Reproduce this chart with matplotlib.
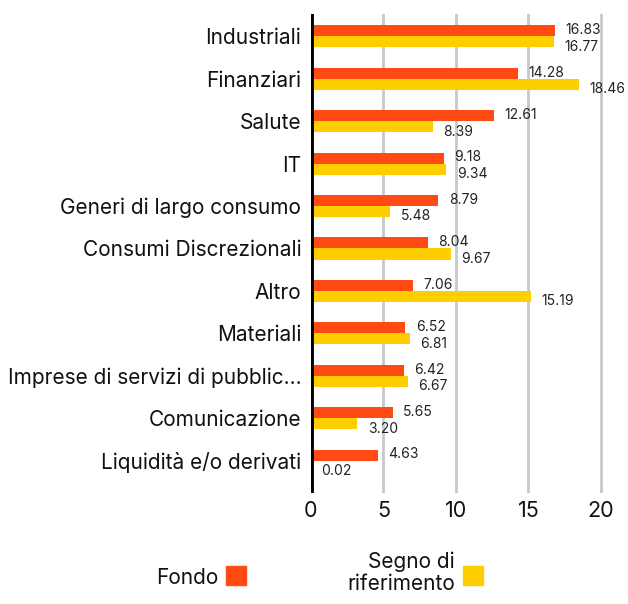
import matplotlib
matplotlib.use("Agg")
import matplotlib.pyplot as plt
from matplotlib.patches import Rectangle
import numpy as np

plt.rcParams['font.family'] = ['Inter', 'DejaVu Sans']

categories = ["Industriali", "Finanziari", "Salute", "IT", "Generi di largo consumo",
              "Consumi Discrezionali", "Altro", "Materiali",
              "Imprese di servizi di pubblic...", "Comunicazione",
              "Liquidità e/o derivati"]
fondo = [16.83, 14.28, 12.61, 9.18, 8.79, 8.04, 7.06, 6.52, 6.42, 5.65, 4.63]
riferimento = [16.77, 18.46, 8.39, 9.34, 5.48, 9.67, 15.19, 6.81, 6.67, 3.20, 0.02]
xticks = [0, 5, 10, 15, 20]

ORANGE = "#FF4A14"
YELLOW = "#FFCE00"

fig = plt.figure(figsize=(6.28, 6.04), dpi=100)
ax = fig.add_axes([0.495, 0.184, 0.505, 0.793])

y = np.arange(len(categories))
h = 0.26
ax.barh(y - h / 2, fondo, height=h, color=ORANGE, zorder=3)
ax.barh(y + h / 2, riferimento, height=h, color=YELLOW, zorder=3)

# value labels
for i in range(len(categories)):
    ax.annotate(f"{fondo[i]:.2f}", (fondo[i], y[i] - h / 2), xytext=(7.5, 0.5),
                textcoords="offset points", va="center", ha="left", fontsize=10,
                color="#222222")
    ax.annotate(f"{riferimento[i]:.2f}", (riferimento[i], y[i] + h / 2), xytext=(7.5, -3.5),
                textcoords="offset points", va="center", ha="left", fontsize=10,
                color="#222222")

ax.set_xlim(0, 21.86)
ax.set_ylim(10.76, -0.53)
ax.set_yticks(y)
ax.set_yticklabels(categories, fontsize=15, color="#111111")
ax.set_xticks(xticks)
ax.set_xticklabels([str(t) for t in xticks], fontsize=15.5, color="#111111")
ax.tick_params(length=0, pad=6)
ax.tick_params(axis="y", pad=7)

for t in xticks[1:]:
    ax.axvline(t, color="#c8c8c8", lw=2, zorder=1)
ax.axvline(0, color="black", lw=3.5, zorder=4)
for s in ax.spines.values():
    s.set_visible(False)

# legend
fig.text(218 / 628, 1 - 578 / 604, "Fondo", ha="right", va="center", fontsize=15, color="#111111")
fig.patches.append(Rectangle((226 / 628, 1 - 585 / 604), 20 / 628, 19 / 604,
                             transform=fig.transFigure, color=ORANGE))
fig.text(455 / 628, 1 - 573 / 604, "Segno di\nriferimento", ha="right", va="center",
         fontsize=15, color="#111111", linespacing=1.15, multialignment="right")
fig.patches.append(Rectangle((463 / 628, 1 - 585 / 604), 20 / 628, 19 / 604,
                             transform=fig.transFigure, color=YELLOW))

fig.savefig("out.png", dpi=100)
